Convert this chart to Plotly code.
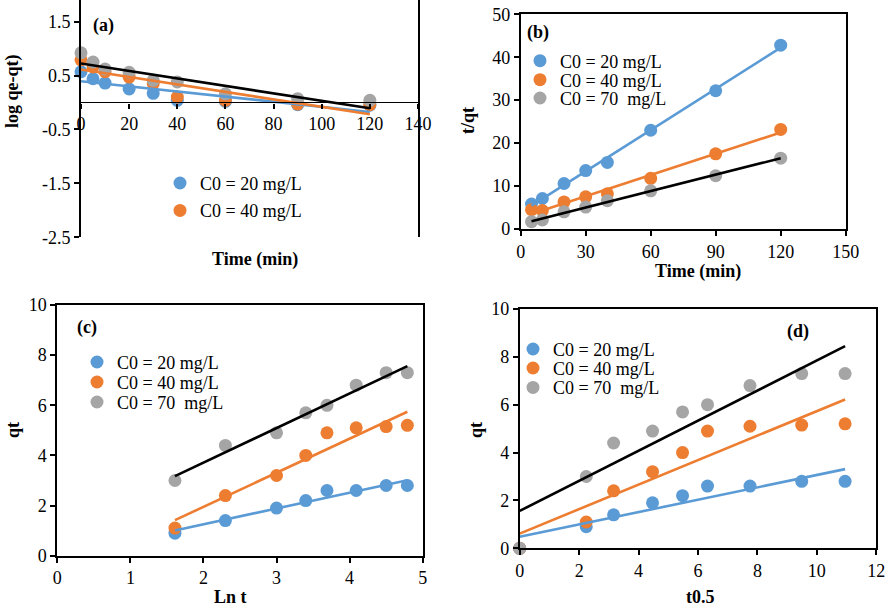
import numpy as np
import plotly.graph_objects as go

# ---------------- data ----------------
labels = ["C0 = 20 mg/L", "C0 = 40 mg/L", "C0 = 70  mg/L"]
colors = ["#5B9BD5", "#ED7D31", "#A5A5A5"]
line_colors = ["#5B9BD5", "#ED7D31", "#000000"]

# (a) pseudo-first-order
time_a = [0, 5, 10, 20, 30, 40, 60, 90, 120]
log_a_20 = [0.57, 0.44, 0.36, 0.25, 0.17, 0.04, 0.02, -0.04, -0.05]
log_a_40 = [0.79, 0.66, 0.57, 0.47, 0.35, 0.10, 0.04, -0.03, -0.04]
log_a_70 = [0.92, 0.75, 0.62, 0.56, 0.41, 0.38, 0.16, 0.07, 0.04]

# (b) pseudo-second-order
time_b = [5, 10, 20, 30, 40, 60, 90, 120]
tq_b_20 = [5.8, 7.1, 10.6, 13.6, 15.5, 23.0, 32.2, 42.8]
tq_b_40 = [4.5, 4.3, 6.3, 7.5, 8.2, 11.8, 17.5, 23.2]
tq_b_70 = [1.7, 2.1, 4.0, 5.1, 6.6, 8.9, 12.4, 16.5]

# (c) Elovich
ln_t = [1.61, 2.30, 3.00, 3.40, 3.69, 4.09, 4.50, 4.79]
qt_20 = [0.9, 1.4, 1.9, 2.2, 2.6, 2.6, 2.8, 2.8]
qt_40 = [1.1, 2.4, 3.2, 4.0, 4.9, 5.1, 5.15, 5.2]
qt_70 = [3.0, 4.4, 4.9, 5.7, 6.0, 6.8, 7.3, 7.3]

# (d) intra-particle diffusion
t_half = [0, 2.24, 3.16, 4.47, 5.48, 6.32, 7.75, 9.49, 10.95]
qt_d_20 = [0, 0.9, 1.4, 1.9, 2.2, 2.6, 2.6, 2.8, 2.8]
qt_d_40 = [0, 1.1, 2.4, 3.2, 4.0, 4.9, 5.1, 5.15, 5.2]
qt_d_70 = [0, 3.0, 4.4, 4.9, 5.7, 6.0, 6.8, 7.3, 7.3]

# ---------------- layout constants ----------------
W, H = 886, 608
FONT = "Liberation Serif, Times New Roman, serif"
TICK_SIZE = 18
LEG_SIZE = 18
TITLE_SIZE = 18


def px(x):
    return x / W


def py(y):
    return 1 - y / H


def fit(x, y):
    m, b = np.polyfit(x, y, 1)
    xs = [min(x), max(x)]
    return xs, [m * v + b for v in xs]


fig = go.Figure()

panels = [
    ("x", "y", time_a, [log_a_20, log_a_40, log_a_70], ["legend", "legend2", None]),
    ("x2", "y2", time_b, [tq_b_20, tq_b_40, tq_b_70], ["legend3", "legend4", "legend5"]),
    ("x3", "y3", ln_t, [qt_20, qt_40, qt_70], ["legend6", "legend7", "legend8"]),
    ("x4", "y4", t_half, [qt_d_20, qt_d_40, qt_d_70], ["legend9", "legend10", "legend11"]),
]

for xa, ya, xs, series, legs in panels:
    for i, ys in enumerate(series):
        fig.add_trace(go.Scatter(
            x=xs, y=ys, mode="markers", xaxis=xa, yaxis=ya,
            marker=dict(color=colors[i], size=13),
            name=labels[i], cliponaxis=False,
            showlegend=legs[i] is not None,
            legend=legs[i] if legs[i] is not None else "legend",
        ))
    for i, ys in enumerate(series):
        lx, ly = fit(xs, ys)
        fig.add_trace(go.Scatter(
            x=lx, y=ly, mode="lines", xaxis=xa, yaxis=ya,
            line=dict(color=line_colors[i], width=2.6),
            showlegend=False, cliponaxis=False,
        ))

LW = 1.8
tickfont = dict(family=FONT, size=TICK_SIZE, color="black")
common = dict(showgrid=False, zeroline=False, showline=True, linecolor="black",
              linewidth=LW, ticks="outside", ticklen=5, tickwidth=1.5,
              tickcolor="black", tickfont=tickfont)

# panel (a)
a_dom_x = [px(81), px(418)]
a_dom_y = [py(237.3), 1.0]
a_range_y = [-2.5, 1.9]
zero_pos = a_dom_y[0] + (0 - a_range_y[0]) / (a_range_y[1] - a_range_y[0]) * (a_dom_y[1] - a_dom_y[0])

fig.update_layout(
    xaxis=dict(common, domain=a_dom_x, range=[0, 140], dtick=20, tick0=0,
               anchor="free", position=zero_pos, linewidth=1.2, ticklabelstandoff=0),
    xaxis5=dict(domain=a_dom_x, range=[0, 140], overlaying="x", anchor="y",
                showline=True, linecolor="black", linewidth=LW, showticklabels=False,
                ticks="", showgrid=False, zeroline=False),
    yaxis=dict(common, domain=a_dom_y, range=a_range_y, anchor="x5", mirror=True,
               tickvals=[-2.5, -1.5, -0.5, 0.5, 1.5],
               ticktext=["-2.5", "-1.5", "-0.5", "0.5", "1.5"]),
    xaxis2=dict(common, domain=[px(520.7), px(845.7)], range=[0, 150], dtick=30,
                anchor="y2", mirror=True, ticklabelstandoff=0),
    yaxis2=dict(common, domain=[py(229), py(14.3)], range=[0, 50], dtick=10,
                anchor="x2", mirror=True),
    xaxis3=dict(common, domain=[px(57.3), px(422.7)], range=[0, 5], dtick=1,
                anchor="y3", mirror=True, ticklabelstandoff=0),
    yaxis3=dict(common, domain=[py(555.7), py(305)], range=[0, 10], dtick=2,
                anchor="x3", mirror=True),
    xaxis4=dict(common, domain=[px(519.7), px(876.3)], range=[0, 12], dtick=2,
                anchor="y4", mirror=True, ticklabelstandoff=0),
    yaxis4=dict(common, domain=[py(548.3), py(309)], range=[0, 10], dtick=2,
                anchor="x4", mirror=True),
)

# legends: (name, text start x px, row center y px)
leg_pos = {
    "legend": (200, 183.3),
    "legend2": (200, 210.7),
    "legend3": (560, 61),
    "legend4": (560, 80),
    "legend5": (560, 98.3),
    "legend6": (117, 362.3),
    "legend7": (117, 382.3),
    "legend8": (117, 402.3),
    "legend9": (553, 349.3),
    "legend10": (553, 368.3),
    "legend11": (553, 387.7),
}
TEXT_OFFSET = 40
for name, (tx, ty) in leg_pos.items():
    fig.update_layout({name: dict(
        x=px(tx - TEXT_OFFSET), y=py(ty), xanchor="left", yanchor="middle",
        bgcolor="rgba(0,0,0,0)", borderwidth=0,
        font=dict(family=FONT, size=LEG_SIZE, color="black"),
    )})

# axis titles and panel labels
texts = [
    ("Time (min)", 255, 259, 0),
    ("log qe-qt)", 12, 91, -90),
    ("Time (min)", 698, 271, 0),
    ("t/qt", 468, 121, -90),
    ("Ln t", 230, 597, 0),
    ("qt", 13, 430, -90),
    ("t0.5", 700, 597, 0),
    ("qt", 476, 430, -90),
    ("(a)", 103, 25, 0),
    ("(b)", 538, 33, 0),
    ("(c)", 87, 327, 0),
    ("(d)", 798, 331, 0),
]
for t, x, y, ang in texts:
    fig.add_annotation(
        text="<b>%s</b>" % t, x=px(x), y=py(y), xref="paper", yref="paper",
        xanchor="center", yanchor="middle", showarrow=False, textangle=ang,
        font=dict(family=FONT, size=TITLE_SIZE, color="black"),
    )

fig.update_layout(
    width=W, height=H, margin=dict(l=0, r=0, t=0, b=0, autoexpand=False),
    paper_bgcolor="white", plot_bgcolor="white",
    font=dict(family=FONT, color="black"),
)

fig.write_html(
    "out.html",
    config={"displayModeBar": False},
    post_script="document.body.style.margin='0';document.body.style.padding='0';",
)
